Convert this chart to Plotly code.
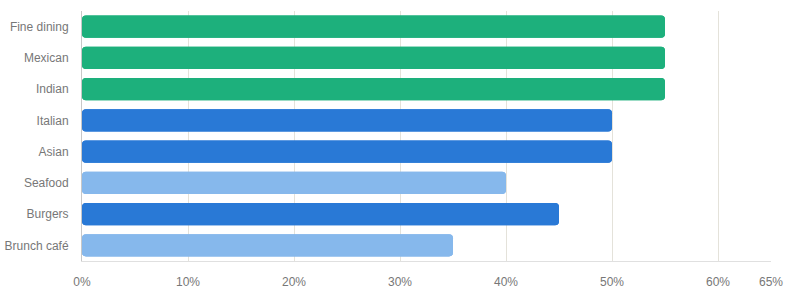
import plotly.graph_objects as go

categories = ["Fine dining", "Mexican", "Indian", "Italian", "Asian", "Seafood", "Burgers", "Brunch café"]
values = [55, 55, 55, 50, 50, 40, 45, 35]
bar_colors = ["#1db07c", "#1db07c", "#1db07c", "#2979d6", "#2979d6", "#86b8ec", "#2979d6", "#86b8ec"]
tick_values = [0, 10, 20, 30, 40, 50, 60, 65]
tick_labels = ["0%", "10%", "20%", "30%", "40%", "50%", "60%", "65%"]

fig = go.Figure()
# full bar drawn backwards (rounded at the 0 end) underneath a full bar rounded at the value end
fig.add_trace(go.Bar(
    y=categories, x=[-v for v in values], base=values,
    orientation="h", marker=dict(color=bar_colors, line=dict(width=0)),
    hoverinfo="skip", showlegend=False))
fig.add_trace(go.Bar(
    y=categories, x=values, base=[0] * len(values),
    orientation="h", marker=dict(color=bar_colors, line=dict(width=0)),
    hoverinfo="skip", showlegend=False))

fig.update_layout(
    width=787, height=292,
    margin=dict(l=82, r=16, t=11, b=31, autoexpand=False),
    paper_bgcolor="white", plot_bgcolor="white",
    barmode="overlay", bargap=0.29, barcornerradius=4,
    font=dict(family="Liberation Sans, Arial, sans-serif", size=12, color="#777777"),
    xaxis=dict(range=[0, 65], tickvals=tick_values, ticktext=tick_labels,
               showgrid=True, gridcolor="#e4e2da", gridwidth=1,
               zeroline=False, showline=True, linecolor="#e0e0e0", linewidth=1,
               ticks="", ticklabelstandoff=10, fixedrange=True, automargin=False),
    yaxis=dict(categoryorder="array", categoryarray=categories[::-1],
               showgrid=False, zeroline=False, showline=True, linecolor="#c8c8c8", linewidth=1,
               ticks="", ticklabelstandoff=10, fixedrange=True, automargin=False),
)

fig.write_html("out.html", config={"displayModeBar": False})
